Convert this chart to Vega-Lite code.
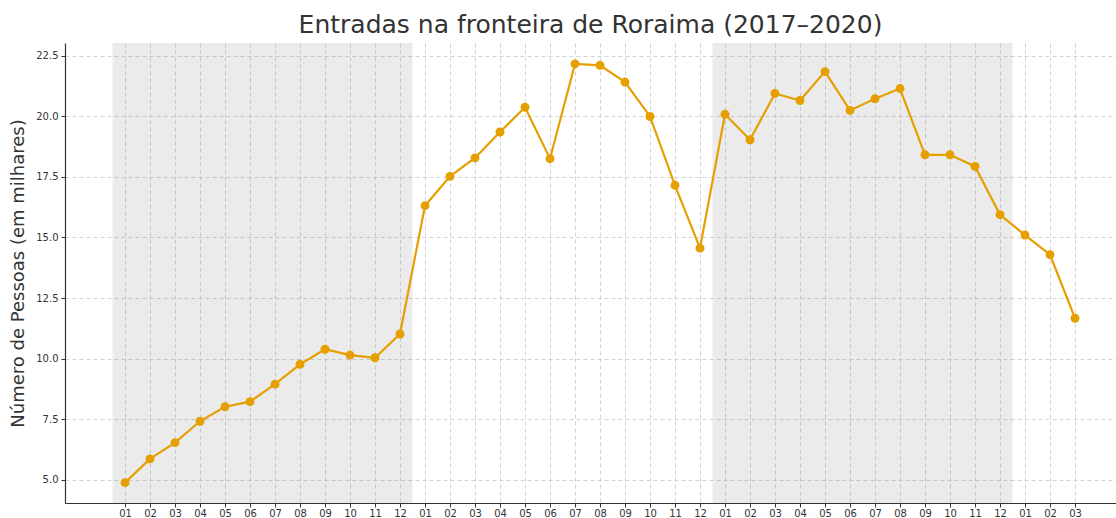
{
  "$schema": "https://vega.github.io/schema/vega-lite/v6.json",
  "width": 1051,
  "height": 460,
  "autosize": {"type": "none"},
  "padding": {"left": 65, "top": 43, "right": 0, "bottom": 15},
  "background": "white",
  "title": {
    "text": "Entradas na fronteira de Roraima (2017–2020)",
    "font": "DejaVu Sans",
    "fontSize": 25,
    "fontWeight": "normal",
    "color": "#333333",
    "offset": 5
  },
  "config": {
    "view": {"stroke": null},
    "font": "DejaVu Sans",
    "axis": {
      "labelFont": "DejaVu Sans",
      "labelFontSize": 10,
      "labelColor": "#333333",
      "titleFont": "DejaVu Sans",
      "domainColor": "#333333",
      "domainWidth": 1.2,
      "tickColor": "#333333",
      "tickSize": 4,
      "tickWidth": 1,
      "grid": true,
      "gridColor": "#c8c8c8",
      "gridDash": [4, 3],
      "gridWidth": 0.8
    }
  },
  "encoding": {
    "x": {
      "field": "i",
      "type": "quantitative",
      "scale": {"domain": [-2.4, 39.64], "nice": false, "zero": false},
      "axis": {
        "title": null,
        "values": [0,1,2,3,4,5,6,7,8,9,10,11,12,13,14,15,16,17,18,19,20,21,22,23,24,25,26,27,28,29,30,31,32,33,34,35,36,37,38],
        "labelExpr": "(datum.value % 12 + 1 < 10 ? '0' : '') + (datum.value % 12 + 1)",
        "labelPadding": 1,
        "labelFlush": false,
        "labelOverlap": false
      }
    }
  },
  "layer": [
    {
      "data": {"values": [{"i": -0.5, "fim": 11.5}, {"i": 23.5, "fim": 35.5}]},
      "mark": {"type": "rect", "color": "gray", "opacity": 0.16},
      "encoding": {"x2": {"field": "fim"}}
    },
    {
      "data": {
        "values": [
          {"i": 0, "mes": "2017-01", "pessoas": 4.89},
          {"i": 1, "mes": "2017-02", "pessoas": 5.87},
          {"i": 2, "mes": "2017-03", "pessoas": 6.54},
          {"i": 3, "mes": "2017-04", "pessoas": 7.42},
          {"i": 4, "mes": "2017-05", "pessoas": 8.02},
          {"i": 5, "mes": "2017-06", "pessoas": 8.23},
          {"i": 6, "mes": "2017-07", "pessoas": 8.95},
          {"i": 7, "mes": "2017-08", "pessoas": 9.77},
          {"i": 8, "mes": "2017-09", "pessoas": 10.39},
          {"i": 9, "mes": "2017-10", "pessoas": 10.15},
          {"i": 10, "mes": "2017-11", "pessoas": 10.04},
          {"i": 11, "mes": "2017-12", "pessoas": 11.02},
          {"i": 12, "mes": "2018-01", "pessoas": 16.31},
          {"i": 13, "mes": "2018-02", "pessoas": 17.52},
          {"i": 14, "mes": "2018-03", "pessoas": 18.28},
          {"i": 15, "mes": "2018-04", "pessoas": 19.35},
          {"i": 16, "mes": "2018-05", "pessoas": 20.37},
          {"i": 17, "mes": "2018-06", "pessoas": 18.25},
          {"i": 18, "mes": "2018-07", "pessoas": 22.16},
          {"i": 19, "mes": "2018-08", "pessoas": 22.10},
          {"i": 20, "mes": "2018-09", "pessoas": 21.41},
          {"i": 21, "mes": "2018-10", "pessoas": 19.99},
          {"i": 22, "mes": "2018-11", "pessoas": 17.15},
          {"i": 23, "mes": "2018-12", "pessoas": 14.56},
          {"i": 24, "mes": "2019-01", "pessoas": 20.08},
          {"i": 25, "mes": "2019-02", "pessoas": 19.03},
          {"i": 26, "mes": "2019-03", "pessoas": 20.94},
          {"i": 27, "mes": "2019-04", "pessoas": 20.65},
          {"i": 28, "mes": "2019-05", "pessoas": 21.84},
          {"i": 29, "mes": "2019-06", "pessoas": 20.24},
          {"i": 30, "mes": "2019-07", "pessoas": 20.72},
          {"i": 31, "mes": "2019-08", "pessoas": 21.14},
          {"i": 32, "mes": "2019-09", "pessoas": 18.41},
          {"i": 33, "mes": "2019-10", "pessoas": 18.41},
          {"i": 34, "mes": "2019-11", "pessoas": 17.93},
          {"i": 35, "mes": "2019-12", "pessoas": 15.94},
          {"i": 36, "mes": "2020-01", "pessoas": 15.10},
          {"i": 37, "mes": "2020-02", "pessoas": 14.29},
          {"i": 38, "mes": "2020-03", "pessoas": 11.67}
        ]
      },
      "mark": {
        "type": "line",
        "color": "#E69F00",
        "strokeWidth": 2.2,
        "point": {"filled": true, "size": 80, "color": "#E69F00", "opacity": 1}
      },
      "encoding": {
        "y": {
          "field": "pessoas",
          "type": "quantitative",
          "scale": {"domain": [4.05, 23.02], "nice": false, "zero": false},
          "axis": {
            "title": "Número de Pessoas (em milhares)",
            "titleFontSize": 18,
            "titleFontWeight": "normal",
            "titleColor": "#333333",
            "titlePadding": 8,
            "values": [5, 7.5, 10, 12.5, 15, 17.5, 20, 22.5],
            "format": ".1f",
            "labelPadding": 3
          }
        }
      }
    }
  ]
}
